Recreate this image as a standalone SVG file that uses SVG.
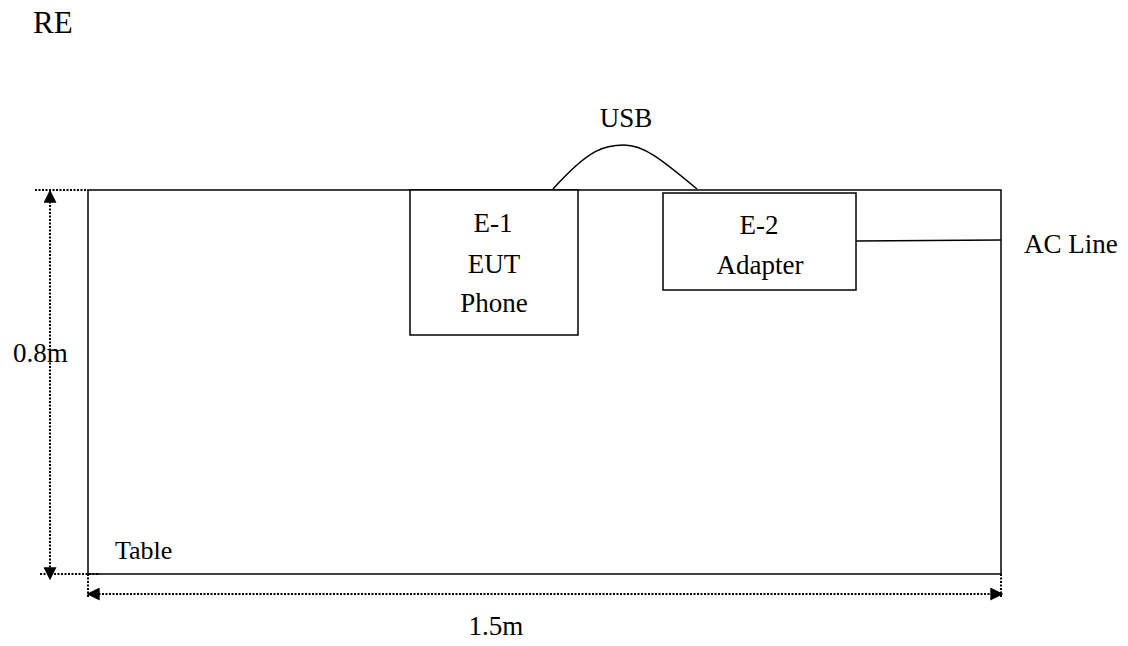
<svg xmlns="http://www.w3.org/2000/svg" width="1128" height="646" viewBox="0 0 1128 646">
<style>
text{font-family:"Liberation Serif","Times New Roman","DejaVu Serif",serif;font-size:27px;fill:#000}
.box{fill:#fff;stroke:#000;stroke-width:1.5}
.ln{fill:none;stroke:#000;stroke-width:1.5}
.dot{fill:none;stroke:#000;stroke-width:2;stroke-dasharray:2 1.5}
</style>
<defs>
<marker id="ah" viewBox="0 0 10 10" refX="9" refY="5" markerWidth="13" markerHeight="13" markerUnits="userSpaceOnUse" orient="auto-start-reverse">
<path d="M0,0 L10,5 L0,10 Z" fill="#000"/>
</marker>
</defs>
<rect width="1128" height="646" fill="#fff"/>
<text x="33" y="33" style="font-size:31px">RE</text>
<g id="table">
<rect class="box" x="88" y="190" width="913" height="384"/>
<text x="115" y="559" style="font-size:26px">Table</text>
</g>
<g id="usb-label">
<rect x="570" y="86" width="114" height="56" fill="#fff"/>
<text x="626" y="127" text-anchor="middle">USB</text>
</g>
<g id="connectors">
<path class="ln" d="M553,189 C590,148 605,145 624,145 C643,145 660,158 697,189"/>
<line class="ln" x1="856" y1="241" x2="1001" y2="240"/>
<line class="dot" x1="35" y1="190" x2="88" y2="190"/>
<line class="dot" x1="40" y1="574" x2="100" y2="574"/>
<line class="dot" x1="50" y1="191" x2="50" y2="579" marker-start="url(#ah)" marker-end="url(#ah)"/>
<line class="dot" x1="88" y1="574" x2="88" y2="598"/>
<line class="dot" x1="1001" y1="574" x2="1001" y2="598"/>
<line class="dot" x1="88" y1="594" x2="1002" y2="594" marker-start="url(#ah)" marker-end="url(#ah)"/>
</g>
<g id="e1">
<rect class="box" x="410" y="190" width="168" height="145"/>
<text x="493" y="232" text-anchor="middle">E-1</text>
<text x="494" y="273" text-anchor="middle">EUT</text>
<text x="494" y="312" text-anchor="middle">Phone</text>
</g>
<g id="e2">
<rect class="box" x="663" y="193" width="193" height="97"/>
<text x="759" y="234" text-anchor="middle">E-2</text>
<text x="760" y="274" text-anchor="middle">Adapter</text>
</g>
<text x="13" y="362">0.8m</text>
<text x="1024" y="253">AC Line</text>
<text x="496" y="635" text-anchor="middle">1.5m</text>
</svg>
